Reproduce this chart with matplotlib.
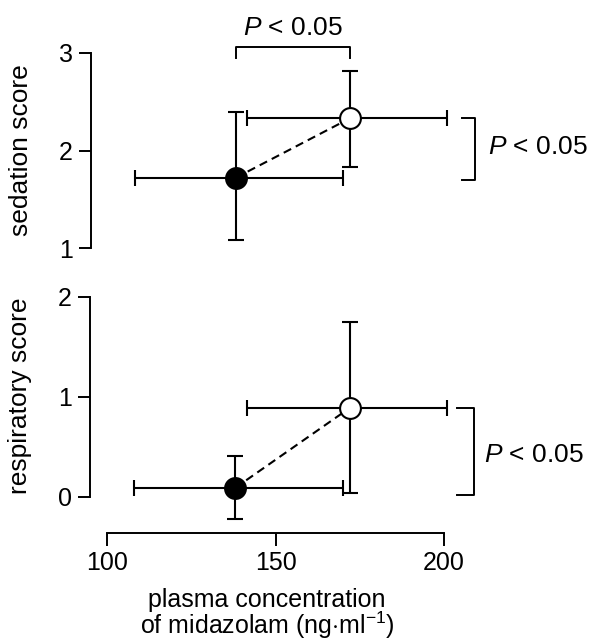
import matplotlib
matplotlib.use('Agg')
import matplotlib.pyplot as plt

plt.rc('font', family='Liberation Sans', size=18)
plt.rc('mathtext', fontset='custom', rm='Liberation Sans', it='Liberation Sans:italic')
plt.rc('axes', linewidth=1.4)

# group means and error bars (control = filled, other = open)
conc = [138, 172]
conc_lo = [108, 141.5]
conc_hi = [170, 201]

sed = [1.72, 2.33]
sed_lo = [1.08, 1.83]
sed_hi = [2.39, 2.82]

resp = [0.09, 0.89]
resp_lo = [-0.22, 0.04]
resp_hi = [0.41, 1.75]

ptext = r'$\mathit{P}$ < 0.05'

W, H = 589, 644
fig = plt.figure(figsize=(W / 100, H / 100), dpi=100)

def pos(left, right, top, bot):
    return [left / W, 1 - bot / H, (right - left) / W, (bot - top) / H]

xmin = 100 - 17 / 3.36
ax1 = fig.add_axes(pos(91, 444, 53, 248))
ax2 = fig.add_axes(pos(90, 444, 297, 533))


def draw(ax, y, ylo, yhi):
    xe = [[c - l for c, l in zip(conc, conc_lo)], [h - c for c, h in zip(conc, conc_hi)]]
    ye = [[v - l for v, l in zip(y, ylo)], [h - v for v, h in zip(y, yhi)]]
    ax.plot(conc, y, 'k--', lw=1.5, dashes=(4, 2.5), zorder=2)
    for i, fc in enumerate(['k', 'w']):
        ax.errorbar(conc[i], y[i], xerr=[[xe[0][i]], [xe[1][i]]], yerr=[[ye[0][i]], [ye[1][i]]],
                    fmt='o', color='k', mfc=fc, mec='k', mew=1.5, ms=15, elinewidth=1.5,
                    capsize=6, capthick=1.5, clip_on=False, zorder=3)
    for s in ['top', 'right']:
        ax.spines[s].set_visible(False)
    ax.set_xlim(xmin, 200)


draw(ax1, sed, sed_lo, sed_hi)
ax1.set_ylim(1, 3)
ax1.set_yticks([1, 2, 3])
ax1.spines['bottom'].set_visible(False)
ax1.set_xticks([])
ax1.tick_params(axis='y', direction='out', length=9, width=1.4, pad=4)
ax1.set_ylabel('sedation score', fontsize=19)

# brackets on top panel
ax1.plot([conc[0], conc[0], conc[1], conc[1]], [2.95, 3.06, 3.06, 2.95], 'k-', lw=1.4, clip_on=False)
ax1.text(sum(conc) / 2, 3.26, ptext, ha='center', va='center', fontsize=19)
ax1.plot([205.5, 209.3, 209.3, 205.5], [sed[1], sed[1], sed[0] - 0.02, sed[0] - 0.02], 'k-', lw=1.4, clip_on=False)
ax1.text(213, 2.04, ptext, ha='left', va='center', fontsize=19)

draw(ax2, resp, resp_lo, resp_hi)
ax2.set_ylim(-0.36, 2)
ax2.set_yticks([0, 1, 2])
ax2.spines['left'].set_bounds(0, 2)
ax2.spines['bottom'].set_bounds(100, 200)
ax2.set_xticks([100, 150, 200])
ax2.tick_params(axis='y', direction='out', length=9, width=1.4, pad=4)
ax2.tick_params(axis='x', direction='out', length=9, width=1.4, pad=4)
ax2.set_ylabel('respiratory score', fontsize=19)
ax2.set_xlabel('plasma concentration\nof midazolam (ng$\\cdot$ml$^{\\mathregular{-1}}$)', labelpad=9, linespacing=0.9)
ax2.yaxis.set_label_coords(-0.165, 0.58)
ax1.yaxis.set_label_coords(-0.165, 0.5)

ax2.plot([204, 208.8, 208.8, 204], [resp[1], resp[1], 0.02, 0.02], 'k-', lw=1.4, clip_on=False)
ax2.text(212, 0.42, ptext, ha='left', va='center', fontsize=19)

fig.savefig('out.png', dpi=100)
